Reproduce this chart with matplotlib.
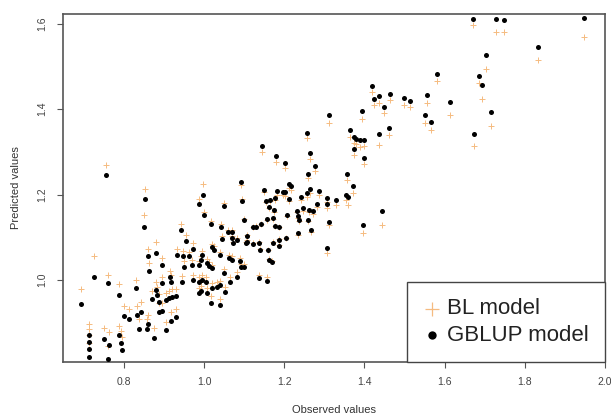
import matplotlib
matplotlib.use("Agg")
import matplotlib.pyplot as plt

# observed phenotype and predictions of the two models
observed = [
    1.671, 1.728, 1.748, 1.948, 1.833, 1.703, 1.686, 1.694, 1.717, 1.673,
    1.582, 1.419, 1.425, 1.436, 1.464, 1.450, 1.500, 1.513, 1.557, 1.613,
    1.393, 1.550, 1.566, 1.461, 1.436, 1.364, 1.374, 1.379, 1.388, 1.398,
    1.373, 1.400, 1.356, 1.371, 1.354, 1.359, 1.444, 1.396, 1.311, 1.257,
    1.144, 1.265, 1.179, 1.202, 1.276, 1.260, 1.092, 1.211, 1.218, 1.150,
    1.181, 1.196, 1.203, 1.265, 1.288, 1.258, 1.242, 1.213, 0.998, 1.154,
    1.164, 1.178, 1.308, 1.329, 1.094, 1.283, 1.308, 1.163, 1.175, 1.050,
    1.232, 1.248, 1.263, 1.271, 1.000, 1.208, 1.234, 1.238, 1.100, 1.157,
    1.173, 1.259, 1.311, 1.018, 1.043, 1.121, 1.129, 1.142, 1.178, 1.188,
    1.060, 1.071, 1.268, 1.234, 1.044, 1.071, 1.083, 1.106, 1.108, 1.138,
    1.171, 1.186, 1.188, 1.204, 1.021, 1.308, 1.025, 1.073, 1.104, 1.123,
    1.139, 1.159, 1.039, 0.996, 1.063, 1.069, 1.163, 1.169, 1.089, 1.092,
    1.100, 0.992, 1.008, 1.013, 1.021, 1.050, 1.083, 1.138, 1.158, 0.994,
    1.004, 1.064, 1.039, 1.033, 1.021, 1.053, 0.992, 1.008, 1.018, 1.039,
    0.756, 0.853, 0.988, 0.849, 0.943, 0.954, 0.973, 0.861, 0.880, 0.933,
    0.948, 0.963, 0.896, 0.863, 0.950, 0.971, 0.988, 0.725, 0.761, 0.915,
    0.917, 0.946, 0.973, 0.988, 0.896, 0.879, 0.788, 0.831, 0.883, 0.888,
    0.904, 0.913, 0.921, 0.929, 0.871, 0.988, 0.694, 0.888, 0.896, 0.842,
    0.833, 0.800, 0.813, 0.929, 0.917, 0.861, 0.858, 0.838, 0.904, 0.714,
    0.714, 0.713, 0.750, 0.763, 0.789, 0.792, 0.796, 0.876, 0.713, 0.761,
]

gblup_pred = [
    1.611, 1.611, 1.608, 1.614, 1.546, 1.526, 1.478, 1.456, 1.394, 1.342,
    1.482, 1.453, 1.424, 1.430, 1.435, 1.404, 1.425, 1.418, 1.433, 1.417,
    1.396, 1.387, 1.369, 1.356, 1.342, 1.350, 1.335, 1.330, 1.327, 1.328,
    1.306, 1.286, 1.249, 1.220, 1.199, 1.195, 1.162, 1.128, 1.385, 1.345,
    1.313, 1.298, 1.289, 1.274, 1.267, 1.248, 1.230, 1.224, 1.219, 1.210,
    1.209, 1.206, 1.206, 1.213, 1.209, 1.203, 1.195, 1.189, 1.199, 1.185,
    1.188, 1.192, 1.192, 1.186, 1.184, 1.178, 1.178, 1.170, 1.164, 1.174,
    1.162, 1.168, 1.164, 1.162, 1.151, 1.151, 1.150, 1.141, 1.141, 1.142,
    1.144, 1.141, 1.135, 1.130, 1.125, 1.124, 1.125, 1.131, 1.127, 1.125,
    1.113, 1.113, 1.117, 1.109, 1.096, 1.098, 1.094, 1.103, 1.090, 1.086,
    1.086, 1.094, 1.080, 1.098, 1.077, 1.074, 1.070, 1.086, 1.086, 1.084,
    1.069, 1.069, 1.059, 1.059, 1.051, 1.047, 1.047, 1.042, 1.045, 1.031,
    1.030, 1.047, 1.039, 1.033, 1.027, 1.016, 1.008, 1.004, 0.998, 1.000,
    0.996, 0.996, 0.988, 0.984, 0.981, 0.971, 0.973, 0.969, 0.947, 0.941,
    1.245, 1.190, 1.177, 1.123, 1.117, 1.092, 1.073, 1.055, 1.064, 1.059,
    1.055, 1.055, 1.035, 1.022, 1.031, 1.035, 1.035, 1.008, 0.992, 1.008,
    0.996, 0.996, 1.000, 0.996, 0.992, 0.977, 0.965, 0.981, 0.965, 0.949,
    0.953, 0.957, 0.961, 0.962, 0.955, 0.970, 0.943, 0.926, 0.927, 0.926,
    0.918, 0.916, 0.908, 0.914, 0.905, 0.897, 0.886, 0.885, 0.883, 0.871,
    0.855, 0.839, 0.861, 0.848, 0.871, 0.853, 0.836, 0.865, 0.819, 0.816,
]

bl_pred = [
    1.597, 1.580, 1.580, 1.569, 1.514, 1.493, 1.460, 1.424, 1.360, 1.313,
    1.466, 1.439, 1.410, 1.415, 1.421, 1.391, 1.410, 1.405, 1.415, 1.385,
    1.377, 1.368, 1.352, 1.340, 1.316, 1.334, 1.320, 1.318, 1.312, 1.313,
    1.292, 1.272, 1.234, 1.204, 1.188, 1.176, 1.129, 1.110, 1.368, 1.333,
    1.300, 1.284, 1.276, 1.262, 1.255, 1.238, 1.222, 1.215, 1.210, 1.205,
    1.200, 1.198, 1.196, 1.203, 1.199, 1.195, 1.188, 1.184, 1.224, 1.183,
    1.185, 1.188, 1.182, 1.176, 1.190, 1.170, 1.168, 1.168, 1.160, 1.180,
    1.158, 1.162, 1.158, 1.155, 1.160, 1.150, 1.146, 1.138, 1.142, 1.141,
    1.143, 1.137, 1.128, 1.138, 1.132, 1.125, 1.126, 1.130, 1.127, 1.124,
    1.118, 1.117, 1.112, 1.106, 1.104, 1.102, 1.098, 1.105, 1.094, 1.089,
    1.088, 1.095, 1.082, 1.098, 1.085, 1.064, 1.080, 1.090, 1.090, 1.087,
    1.072, 1.070, 1.066, 1.068, 1.058, 1.055, 1.050, 1.045, 1.052, 1.038,
    1.037, 1.056, 1.048, 1.042, 1.036, 1.026, 1.018, 1.012, 1.006, 1.012,
    1.008, 1.006, 0.998, 0.995, 0.993, 0.984, 0.986, 0.982, 0.962, 0.956,
    1.270, 1.213, 1.190, 1.152, 1.130, 1.106, 1.086, 1.072, 1.088, 1.072,
    1.068, 1.066, 1.052, 1.040, 1.044, 1.046, 1.045, 1.056, 1.012, 1.022,
    1.012, 1.010, 1.012, 1.008, 1.008, 0.996, 0.990, 1.000, 0.984, 0.968,
    0.970, 0.974, 0.978, 0.978, 0.975, 0.982, 0.979, 0.946, 0.946, 0.948,
    0.940, 0.940, 0.932, 0.932, 0.924, 0.918, 0.908, 0.908, 0.902, 0.898,
    0.885, 0.870, 0.888, 0.878, 0.892, 0.880, 0.866, 0.888, 0.852, 0.846,
]

x_ticks = [0.8, 1.0, 1.2, 1.4, 1.6, 1.8, 2.0]
y_ticks = [1.0, 1.2, 1.4, 1.6]

plt.rcParams['font.family'] = ['Liberation Sans', 'DejaVu Sans']

fig = plt.figure(figsize=(6.11, 4.18), dpi=100)
ax = fig.add_axes([0.103, 0.134, 0.887, 0.833])

ax.scatter(observed, bl_pred, marker='+', s=14, linewidths=0.7,
           color='#f5bb80', label='BL model', zorder=2)
ax.scatter(observed, gblup_pred, marker='o', s=13, linewidths=0,
           color='black', label='GBLUP model', zorder=3)

ax.set_xlim(0.648, 2.0)
ax.set_ylim(0.808, 1.623)
ax.set_xticks(x_ticks)
ax.set_xticklabels([f"{t:.1f}" for t in x_ticks])
ax.set_yticks(y_ticks)
ax.set_yticklabels([f"{t:.1f}" for t in y_ticks], rotation=90, va='center')

ax.tick_params(direction='out', length=4, width=0.8, colors='#555555',
               labelsize=7.5, labelcolor='#444444', pad=7)
for s in ax.spines.values():
    s.set_color('#555555')
    s.set_linewidth(1.2)

ax.set_xlabel('Observed values', fontsize=8, color='#333333', labelpad=13)
ax.set_ylabel('Predicted values', fontsize=8, color='#333333', labelpad=12)

leg = ax.legend(loc='lower right', fontsize=16, frameon=True, fancybox=False,
                borderaxespad=0, handletextpad=0.3, handlelength=0.8,
                borderpad=0.72, labelspacing=0.25)
leg.legend_handles[0].set_sizes([110])
leg.legend_handles[0].set_linewidths([0.9])
leg.legend_handles[1].set_sizes([36])
for t in leg.get_texts():
    t.set_color('#222222')
leg.get_frame().set_edgecolor('#444444')
leg.get_frame().set_linewidth(1.0)
leg.get_frame().set_alpha(1)

fig.savefig('out.png', dpi=100)
